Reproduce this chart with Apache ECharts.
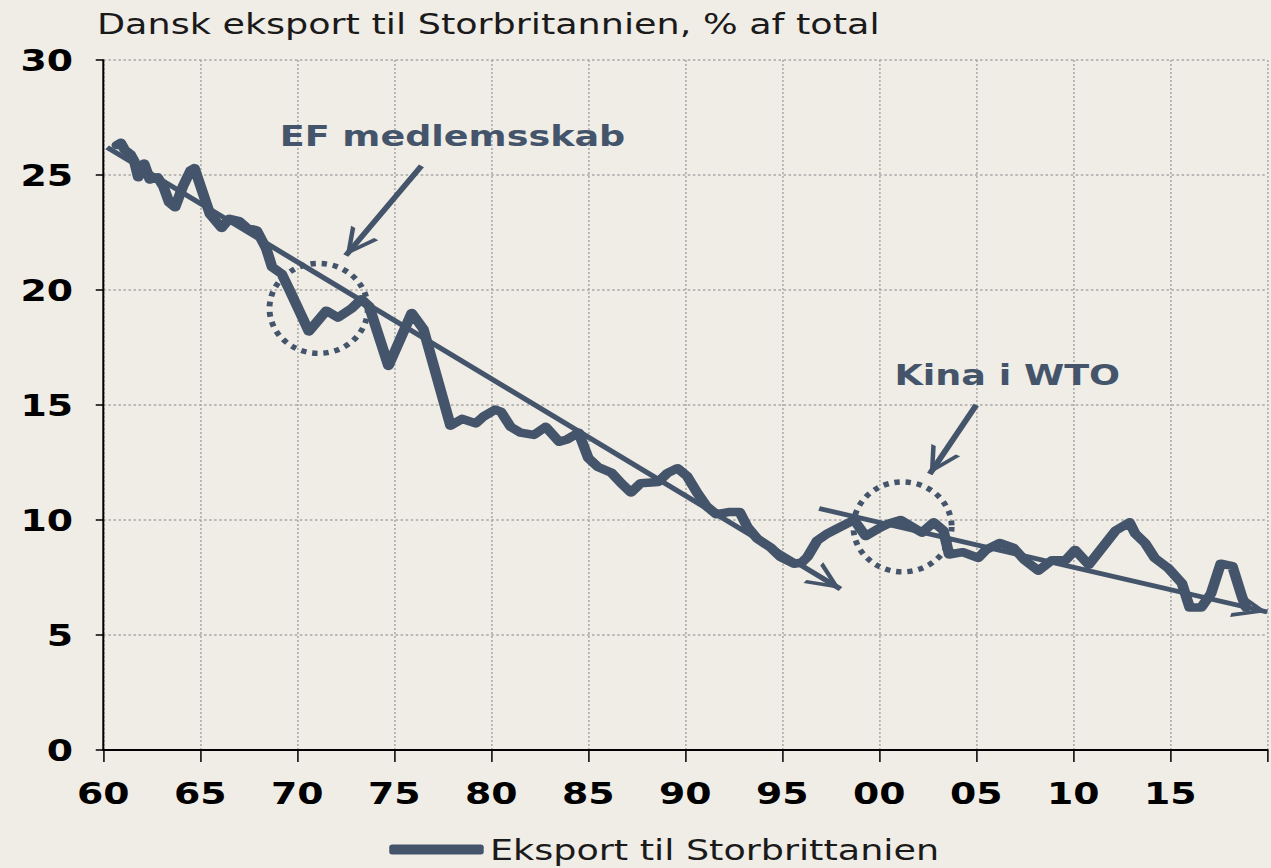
<!DOCTYPE html>
<html>
<head>
<meta charset="utf-8">
<style>
  html, body { margin: 0; padding: 0; background: #F0ECE6; overflow: hidden; }
  /* the reference is a horizontally stretched picture: draw narrow, then stretch */
  #chart { width: 1009px; height: 868px; transform: scaleX(1.2597); transform-origin: 0 0; }
</style>
<script src="https://cdn.jsdelivr.net/npm/echarts@6/dist/echarts.min.js"></script>
</head>
<body>
<div id="chart"></div>
<script>
// --- data ---
var years = [
  1960.7, 1960.9, 1961.1, 1961.4, 1961.6, 1961.8, 1962.1, 1962.4, 1962.8, 1963.1,
  1963.4, 1963.7, 1964.1, 1964.5, 1964.7, 1965.1, 1965.5, 1966.1, 1966.5, 1967.0,
  1967.4, 1967.9, 1968.4, 1968.7, 1969.2, 1969.6, 1970.6, 1971.5, 1972.1, 1972.8,
  1973.3, 1973.7, 1974.7, 1975.9, 1976.5, 1977.9, 1978.5, 1979.2, 1979.6, 1980.2,
  1980.5, 1981.0, 1981.5, 1982.2, 1982.8, 1983.5, 1983.9, 1984.5, 1985.0, 1985.5,
  1986.2, 1986.7, 1987.2, 1987.7, 1988.6, 1989.1, 1989.6, 1990.1, 1990.6, 1991.1,
  1991.6, 1992.3, 1992.8, 1993.2, 1993.7, 1994.4, 1994.9, 1995.6, 1996.0, 1996.3,
  1996.8, 1997.3, 1998.0, 1998.7, 1999.3, 2000.0, 2000.5, 2001.1, 2002.2, 2002.8,
  2003.3, 2003.6, 2004.3, 2005.1, 2005.5, 2006.2, 2006.9, 2007.5, 2008.2, 2008.9,
  2009.6, 2010.1, 2010.8, 2011.5, 2012.2, 2012.9, 2013.2, 2013.7, 2014.2, 2014.9,
  2015.6, 2016.0, 2016.6, 2017.1, 2017.6, 2018.2, 2018.7, 2018.9
];
var shares = [
  26.3, 26.4, 26.1, 25.9, 25.6, 24.9, 25.5, 24.8, 24.9, 24.5,
  23.8, 23.6, 24.5, 25.2, 25.3, 24.3, 23.3, 22.7, 23.1, 23.0,
  22.7, 22.6, 21.8, 21.0, 20.7, 20.0, 18.2, 19.1, 18.8, 19.2,
  19.6, 19.3, 16.7, 19.0, 18.3, 14.1, 14.4, 14.2, 14.5, 14.8,
  14.7, 14.05, 13.8, 13.7, 14.05, 13.4, 13.5, 13.8, 12.7, 12.3,
  12.05, 11.6, 11.2, 11.6, 11.65, 12.05, 12.25, 11.9, 11.2, 10.6,
  10.25, 10.35, 10.35, 9.7, 9.2, 8.8, 8.4, 8.1, 8.15, 8.4,
  9.1, 9.4, 9.7, 10.0, 9.3, 9.65, 9.85, 10.0, 9.45, 9.9,
  9.55, 8.5, 8.6, 8.35, 8.7, 9.0, 8.8, 8.25, 7.8, 8.25,
  8.25, 8.7, 8.05, 8.8, 9.55, 9.9, 9.4, 9.0, 8.35, 7.9,
  7.25, 6.2, 6.2, 6.8, 8.1, 8.0, 6.65, 6.2
];

// trend lines [start, end] as [year, value]
var trendOld = [[1960.2, 26.2], [1998.0, 7.0]];
var trendNew = [[1996.9, 10.5], [2020.0, 6.0]];
// annotation arrows
var arrowEF = [[1976.4, 25.4], [1972.5, 21.5]];
var arrowWTO = [[2005.0, 15.0], [2002.6, 12.0]];
// dotted circles (centres)
var circleCentres = [[1971.1, 19.2], [2001.2, 9.7]];
// annotation texts
var noteNames = ['EF medlemsskab', 'Kina i WTO'];
var notePos = [[1978.0, 26.7], [2006.6, 16.3]];

var seriesName = 'Eksport til Storbrittanien';
var titleText = 'Dansk eksport til Storbritannien, % af total';

var ink = '#44546A';
var font = '"DejaVu Sans", Verdana, sans-serif';

var lineData = years.map(function(y, i) { return [y, shares[i]]; });
function seg(p) { return [{ coord: p[0] }, { coord: p[1] }]; }

// open chevron pointing up, tip at the symbol centre
var chevron = 'path://M15,-27L15.01,-27L15,-26.99ZM0,27L15,0L30,27L25.4,27L15,8.2L4.6,27Z';

var chart = echarts.init(document.getElementById('chart'), null, { renderer: 'svg' });
chart.setOption({
  animation: false,
  backgroundColor: '#F0ECE6',
  title: {
    text: titleText,
    left: 77,
    top: 9,
    padding: 0,
    textStyle: { fontFamily: font, fontSize: 29, fontWeight: 'normal', color: '#1a1a1a' }
  },
  legend: {
    data: [seriesName],
    left: 309,
    top: 835,
    padding: 0,
    icon: 'roundRect',
    itemWidth: 75,
    itemHeight: 10,
    textStyle: { fontFamily: font, fontSize: 29, color: '#1a1a1a' }
  },
  grid: { left: 82, right: 0, top: 60, bottom: 118 },
  xAxis: {
    type: 'value',
    min: 1960,
    max: 2020,
    interval: 5,
    axisLine: { lineStyle: { color: '#000', width: 2 } },
    axisTick: { show: true, length: 12, lineStyle: { color: '#000', width: 1.2 } },
    axisLabel: {
      margin: 28,
      fontFamily: font,
      fontSize: 30,
      fontWeight: 'bold',
      color: '#000',
      formatter: function(v) {
        if (v >= 2020) return '';
        var s = String(v % 100);
        return s.length < 2 ? '0' + s : s;
      }
    },
    splitLine: { show: true, lineStyle: { color: '#A8A8A8', width: 1.2, type: [2, 2] } }
  },
  yAxis: {
    type: 'value',
    min: 0,
    max: 30,
    interval: 5,
    axisLine: { show: true, lineStyle: { color: '#000', width: 1.6 } },
    axisTick: { show: true, length: 6, lineStyle: { color: '#000', width: 1.5 } },
    axisLabel: {
      margin: 24,
      fontFamily: font,
      fontSize: 30,
      fontWeight: 'bold',
      color: '#000'
    },
    splitLine: { show: true, lineStyle: { color: '#A8A8A8', width: 1.5, type: [2, 2] } }
  },
  series: [
    {
      name: seriesName,
      type: 'line',
      data: lineData,
      showSymbol: false,
      color: ink,
      lineStyle: { color: ink, width: 8.5, join: 'round', cap: 'round' },
      z: 3
    },
    {
      name: 'circles',
      type: 'scatter',
      data: circleCentres,
      symbol: 'circle',
      symbolSize: [78, 90],
      itemStyle: { opacity: 1, color: 'rgba(0,0,0,0)', borderColor: ink, borderWidth: 5, borderType: [4.5, 5] },
      silent: true,
      z: 2,
      markLine: {
        silent: true,
        symbol: ['none', chevron],
        symbolSize: [26, 54],
        label: { show: false },
        lineStyle: { color: ink, width: 4.8, type: 'solid', opacity: 1 },
        emphasis: { disabled: true },
        data: [seg(trendOld), seg(trendNew), seg(arrowEF), seg(arrowWTO)]
      }
    },
    {
      name: 'notes',
      type: 'scatter',
      data: noteNames.map(function(n, i) { return { name: n, value: notePos[i] }; }),
      symbolSize: 1,
      itemStyle: { opacity: 1, color: 'rgba(0,0,0,0)' },
      silent: true,
      label: {
        show: true,
        position: 'inside',
        formatter: '{b}',
        fontFamily: font,
        fontSize: 29,
        fontWeight: 'bold',
        color: ink,
        opacity: 1,
        textBorderWidth: 0
      },
      z: 4
    }
  ]
});
</script>
</body>
</html>
